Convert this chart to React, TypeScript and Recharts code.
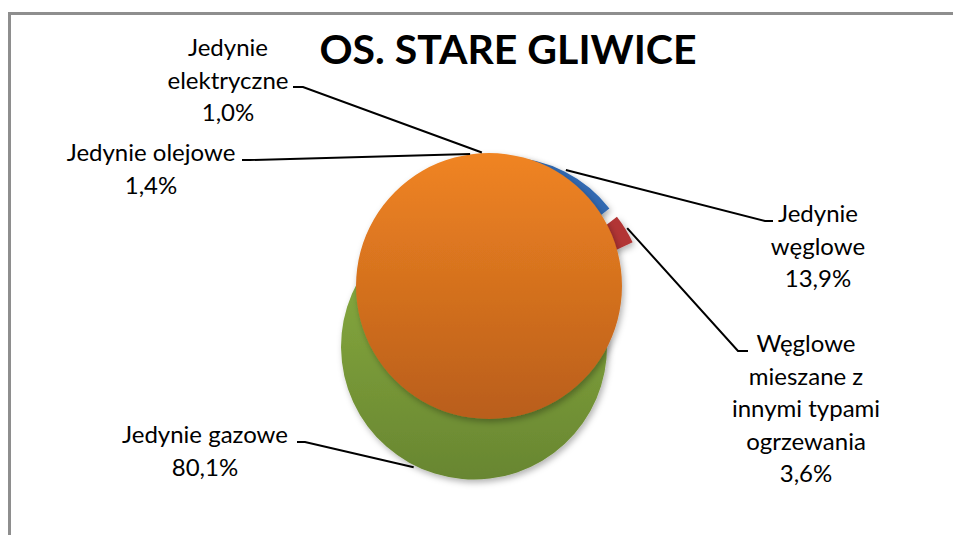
import React from 'react';
import { PieChart, Pie, Cell } from 'recharts';

// data
const categories = [
  'Jedynie węglowe',
  'Węglowe mieszane z innymi typami ogrzewania',
  'Jedynie gazowe',
  'Jedynie olejowe',
  'Jedynie elektryczne',
];
const shares = [13.9, 3.6, 80.1, 1.4, 1.0];
const chartTitle = 'OS. STARE GLIWICE';
// the big orange disc that Excel draws on top of the pie
const overlayShare = [100];

const slices = categories.map((name, i) => ({ name, value: shares[i] }));
const overlay = overlayShare.map((value) => ({ name: 'nakładka', value }));

// layout / style
const W = 953;
const H = 535;
const FONT = 'Lato, "Open Sans", sans-serif';
const CX = 495;
const CY = 309;
const R = 133;
const START = 2; // first slice angle, degrees clockwise from 12 o'clock
const fills = ['#3069B1', '#B23434', 'url(#gGreen)', '#7E5F9E', '#3FA1BD'];
const explode = [21, 20, 43, 16, 16];
const leaderGap = [2, 2, 2, 8, 8];
const leaderTurn = [0, 0, -2, -5, -5];
const wrapAt = [8, 13, 16, 16, 11];
const labelPos = [
  { x: 818, y: 222, elbow: [765, 221], edge: 773 },
  { x: 806, y: 352, elbow: [738, 351], edge: 748 },
  { x: 205, y: 443, elbow: [305, 442], edge: 297 },
  { x: 151, y: 161, elbow: [250, 160], edge: 242 },
  { x: 228, y: 56, elbow: [303, 87], edge: 293 },
];

const total = shares.reduce((a, b) => a + b, 0);
const midCompass: number[] = [];
{
  let acc = 0;
  shares.forEach((v) => {
    midCompass.push(START + (360 * (acc + v / 2)) / total);
    acc += v;
  });
}
const RAD = Math.PI / 180;

function wrap(text: string, max: number) {
  const out: string[] = [];
  let line = '';
  text.split(' ').forEach((w) => {
    if (!line) line = w;
    else if ((line + ' ' + w).length <= max) line += ' ' + w;
    else {
      out.push(line);
      line = w;
    }
  });
  if (line) out.push(line);
  return out;
}

const pct = (v: number) => v.toFixed(1).replace('.', ',') + '%';

const renderLabel = (props: any) => {
  const { cx, cy, midAngle, outerRadius, index, name, value } = props;
  const r = outerRadius + explode[index] + leaderGap[index];
  const a = (midAngle - leaderTurn[index]) * RAD;
  const sx = cx + r * Math.cos(-a);
  const sy = cy + r * Math.sin(-a);
  const pos = labelPos[index];
  const lines = [...wrap(name, wrapAt[index]), pct(value)];
  return (
    <g key={'lbl' + index}>
      <polyline
        points={`${sx},${sy} ${pos.elbow[0]},${pos.elbow[1]} ${pos.edge},${pos.elbow[1]}`}
        fill="none"
        stroke="#000"
        strokeWidth={2}
      />
      <text x={pos.x} y={pos.y} textAnchor="middle" fontFamily={FONT} fontSize={24} fill="#000">
        {lines.map((l, k) => (
          <tspan key={k} x={pos.x} dy={k === 0 ? 0 : 32.5}>
            {l}
          </tspan>
        ))}
      </text>
    </g>
  );
};

export default function App() {
  return (
    <div style={{ position: 'absolute', left: 0, top: 0, width: W, height: H, background: '#fff', overflow: 'hidden' }}>
      <svg width={0} height={0} style={{ position: 'absolute' }}>
        <defs>
          <linearGradient id="gGreen" x1="0" y1="0" x2="0" y2="1">
            <stop offset="0%" stopColor="#8DB141" />
            <stop offset="100%" stopColor="#688631" />
          </linearGradient>
          <linearGradient id="gOrange" x1="0" y1="0" x2="0" y2="1">
            <stop offset="0%" stopColor="#F08423" />
            <stop offset="100%" stopColor="#B95E1A" />
          </linearGradient>
          <filter id="shadow" x="-20%" y="-20%" width="140%" height="140%">
            <feDropShadow dx="2" dy="3" stdDeviation="3" floodColor="#000" floodOpacity="0.3" />
          </filter>
        </defs>
      </svg>
      <div
        style={{
          position: 'absolute',
          left: 8,
          top: 12,
          width: W,
          height: H,
          borderLeft: '3px solid #8E8E8E',
          borderTop: '3px solid #8E8E8E',
        }}
      />
      <div
        style={{
          position: 'absolute',
          left: 0,
          width: 1016,
          top: 24,
          textAlign: 'center',
          fontFamily: FONT,
          fontWeight: 700,
          fontSize: 41,
          lineHeight: '50px',
          color: '#000',
        }}
      >
        {chartTitle}
      </div>
      <div style={{ position: 'absolute', left: 0, top: 0 }}>
        <PieChart width={W} height={H} margin={{ top: 0, right: 0, bottom: 0, left: 0 }}>
          {[2, 0, 1, 3, 4].map((j) => (
            <Pie
              key={'p' + j}
              data={slices}
              dataKey="value"
              nameKey="name"
              cx={CX + explode[j] * Math.sin(midCompass[j] * RAD)}
              cy={CY - explode[j] * Math.cos(midCompass[j] * RAD)}
              outerRadius={R}
              startAngle={90 - START}
              endAngle={90 - START - 360}
              stroke="none"
              isAnimationActive={false}
              labelLine={false}
              label={false}
            >
              {slices.map((s, i) => (
                <Cell
                  key={s.name}
                  fill={i === j ? fills[i] : 'none'}
                  stroke="none"
                  filter={i === j ? 'url(#shadow)' : undefined}
                />
              ))}
            </Pie>
          ))}
          <Pie
            data={overlay}
            dataKey="value"
            nameKey="name"
            cx={489}
            cy={286}
            outerRadius={R}
            startAngle={90}
            endAngle={-270}
            stroke="none"
            isAnimationActive={false}
            labelLine={false}
            label={false}
          >
            {overlay.map((s) => (
              <Cell key={s.name} fill="url(#gOrange)" stroke="none" filter="url(#shadow)" />
            ))}
          </Pie>
          <Pie
            data={slices}
            dataKey="value"
            nameKey="name"
            cx={CX}
            cy={CY}
            outerRadius={R}
            startAngle={90 - START}
            endAngle={90 - START - 360}
            stroke="none"
            fill="none"
            isAnimationActive={false}
            labelLine={false}
            label={renderLabel}
          >
            {slices.map((s) => (
              <Cell key={s.name} fill="none" stroke="none" />
            ))}
          </Pie>
        </PieChart>
      </div>
    </div>
  );
}
